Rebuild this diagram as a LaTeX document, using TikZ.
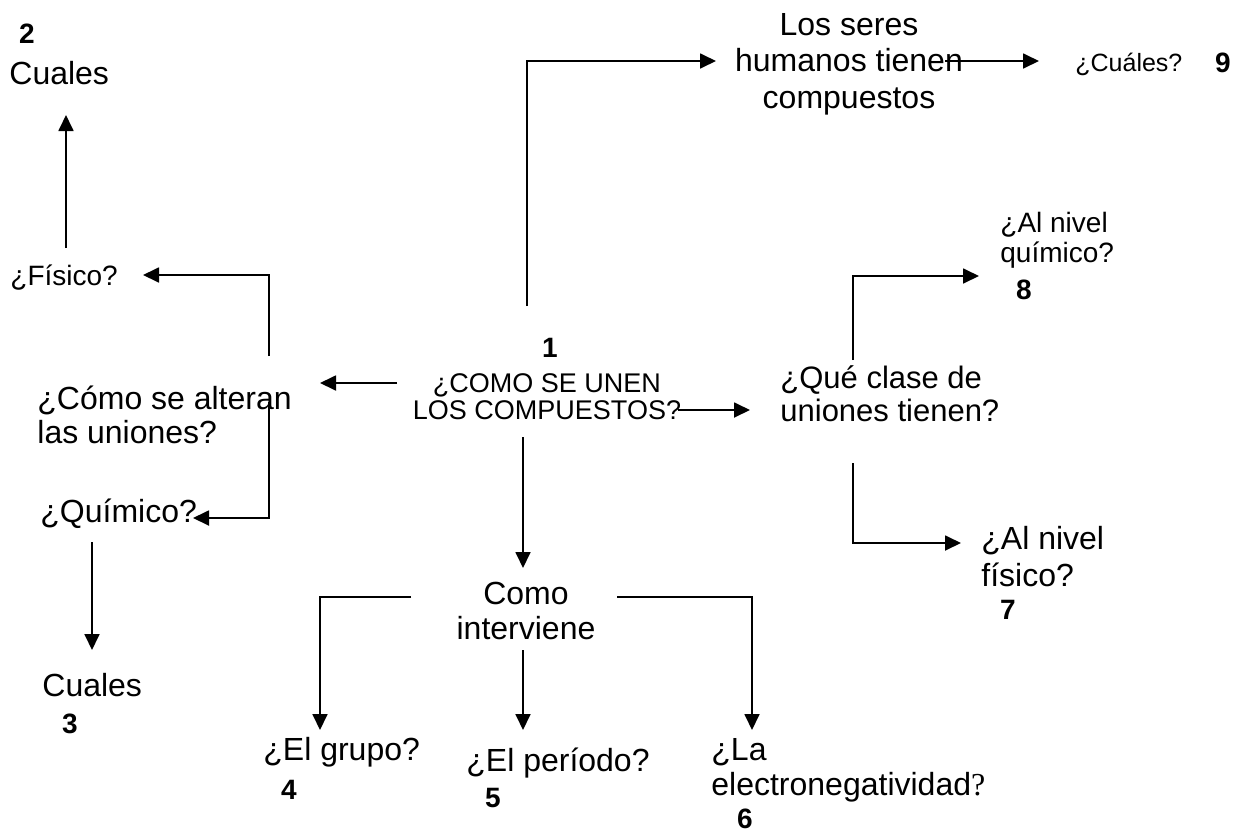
\documentclass[tikz,border=0pt]{standalone}
\usepackage{fontspec}
\setmainfont{Liberation Sans}
\newfontfamily\serifq{Liberation Serif}
\usetikzlibrary{arrows.meta}

\begin{document}
\begin{tikzpicture}[x=0.5pt,y=-0.5pt,
  txt/.style={inner sep=0pt,font=\fontsize{16}{17.5}\selectfont},
  mid/.style={inner sep=0pt,font=\fontsize{14}{15}\selectfont},
  num/.style={inner sep=0pt,font=\fontsize{14}{14}\selectfont\bfseries},
  arr/.style={line width=0.9pt,-{Triangle[length=8pt,width=7.5pt]}},
  ln/.style={line width=0.9pt}]
\useasboundingbox (0,0) rectangle (1238,836);

% ---- texts ----
\node[num] (n2) at (27,34) {2};
\node[txt,anchor=west] (cuales2) at (9,73) {Cuales};
\node[mid,anchor=west] (fisico) at (10,278) {¿Físico?};
\node[txt,anchor=west,align=left,font=\fontsize{16}{17}\selectfont] (alteran) at (37,415) {¿Cómo se alteran\\las uniones?};
\node[txt,anchor=west] (quimico) at (40,514) {¿Químico?};
\node[txt,anchor=west] (cuales3) at (42,685) {Cuales};
\node[num] (n3) at (70,724) {3};

\node[num] (n1) at (550,348) {1};
\node[inner sep=0pt,align=center,font=\fontsize{13.5}{13.5}\selectfont] (mainq) at (547,397) {¿COMO SE UNEN\\LOS COMPUESTOS?};

\node[txt,align=center,font=\fontsize{16}{18.25}\selectfont] (humanos) at (849,64) {Los seres\\humanos tienen\\compuestos};
\node[inner sep=0pt,anchor=west,font=\fontsize{12.5}{13}\selectfont] (cuales9) at (1075,64) {¿Cuáles?};
\node[num] (n9) at (1223,63) {9};

\node[mid,anchor=west,align=left] (nivelq) at (1000,240) {¿Al nivel\\químico?};
\node[num] (n8) at (1024,290) {8};

\node[txt,anchor=west,align=left,font=\fontsize{15.5}{16.5}\selectfont] (clase) at (780,394) {¿Qué clase de\\uniones tienen?};

\node[txt,anchor=west,align=left,font=\fontsize{16}{18.5}\selectfont] (nivelf) at (981,557) {¿Al nivel\\físico?};
\node[num] (n7) at (1008,610) {7};

\node[txt,align=center] (como) at (526,611) {Como\\interviene};

\node[txt,anchor=west] (grupo) at (263,752) {¿El grupo?};
\node[num] (n4) at (289,790) {4};
\node[txt,anchor=west] (periodo) at (466,763) {¿El período?};
\node[num] (n5) at (493,798) {5};
\node[txt,anchor=west,align=left] (electro) at (711,770) {¿La\\electronegatividad{\serifq ?}};
\node[num] (n6) at (745,819) {6};

% ---- connector ends ----
\coordinate (fisicoUp) at (66,248);
\coordinate (cuales2In) at (66,115);
\coordinate (alteranUp) at (269,356);
\coordinate (fisicoIn) at (143,275);
\coordinate (mainLeft) at (397,383);
\coordinate (alteranIn) at (320,383);
\coordinate (alteranDown) at (269,402);
\coordinate (quimicoIn) at (193,518);
\coordinate (quimicoDown) at (92,542);
\coordinate (cuales3In) at (92,650);
\coordinate (mainUp) at (527,306);
\coordinate (humanosIn) at (716,61);
\coordinate (humanosRight) at (945,61);
\coordinate (cuales9In) at (1039,61);
\coordinate (mainRight) at (678,410);
\coordinate (claseIn) at (750,410);
\coordinate (claseUp) at (853,360);
\coordinate (nivelqIn) at (979,276);
\coordinate (claseDown) at (853,463);
\coordinate (nivelfIn) at (961,543);
\coordinate (mainDown) at (523,437);
\coordinate (comoIn) at (523,568);
\coordinate (comoLeft) at (411,597);
\coordinate (grupoIn) at (320,730);
\coordinate (comoDown) at (523,650);
\coordinate (periodoIn) at (523,730);
\coordinate (comoRight) at (617,597);
\coordinate (electroIn) at (752,730);

% ---- connectors ----
\draw[arr] (fisicoUp) -- (cuales2In);
\draw[arr] (alteranUp) |- (fisicoIn);
\draw[arr] (mainLeft) -- (alteranIn);
\draw[arr] (alteranDown) |- (quimicoIn);
\draw[arr] (quimicoDown) -- (cuales3In);
\draw[arr] (mainUp) |- (humanosIn);
\draw[arr] (humanosRight) -- (cuales9In);
\draw[arr] (mainRight) -- (claseIn);
\draw[arr] (claseUp) |- (nivelqIn);
\draw[arr] (claseDown) |- (nivelfIn);
\draw[arr] (mainDown) -- (comoIn);
\draw[arr] (comoLeft) -| (grupoIn);
\draw[arr] (comoDown) -- (periodoIn);
\draw[arr] (comoRight) -| (electroIn);
\end{tikzpicture}
\end{document}
